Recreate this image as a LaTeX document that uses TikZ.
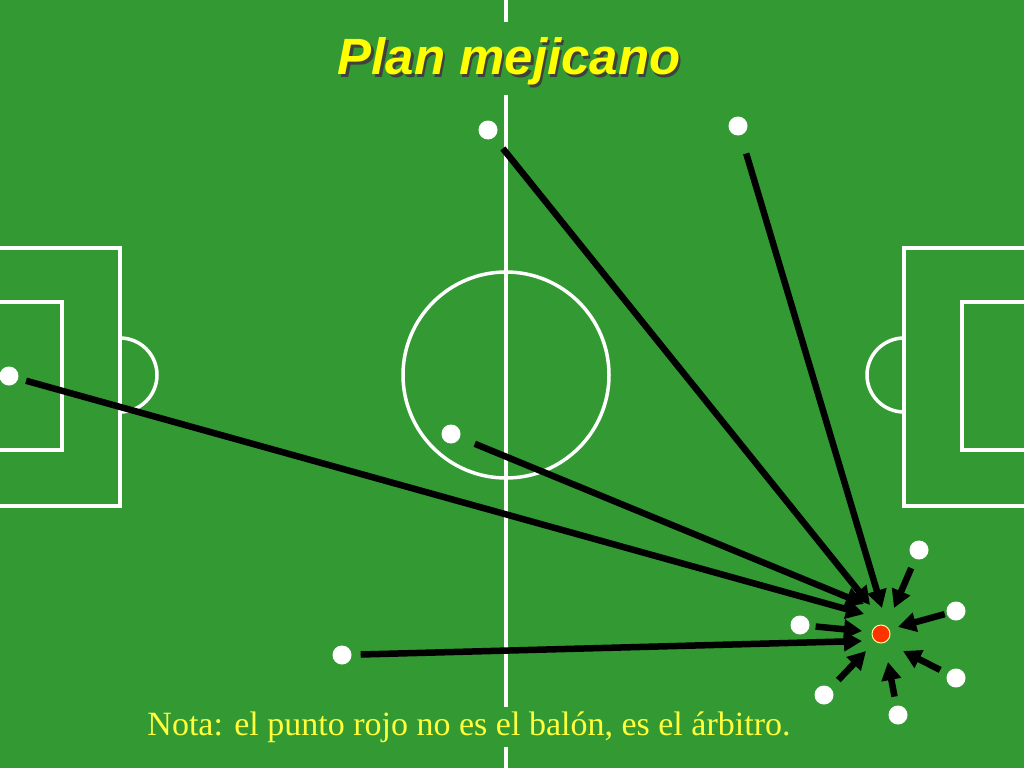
\documentclass[tikz,border=0pt]{standalone}
\usepackage{fontspec}
\setmainfont{Liberation Serif}
\setsansfont{Liberation Sans}
\usetikzlibrary{arrows.meta}
\definecolor{fieldgreen}{RGB}{51,153,51}
\definecolor{refred}{RGB}{255,51,0}
\definecolor{titleyellow}{RGB}{255,255,0}
\definecolor{noteyellow}{RGB}{255,255,60}
\newcommand{\shadowtext}[1]{\rlap{\kern2.5pt\raisebox{-2.5pt}{\textcolor{black!75}{#1}}}#1}
\begin{document}
\begin{tikzpicture}[x=1pt,y=-1pt,
  fieldline/.style={draw=white,line width=3.5pt},
  player/.style={circle,fill=white,inner sep=0pt,minimum size=19pt},
  referee/.style={circle,fill=refred,draw=yellow!40,line width=1pt,inner sep=0pt,minimum size=18pt},
  run/.style={draw=black,line width=6.5pt,-{Triangle[length=18pt,width=19pt]}},
  titletext/.style={font=\sffamily\bfseries\itshape\fontsize{51}{58}\selectfont},
  notetext/.style={font=\fontsize{34}{38}\selectfont,text=noteyellow}
]
\useasboundingbox (0,0) rectangle (1024,768);
\fill[fieldgreen] (0,0) rectangle (1024,768);
% field lines
\draw[fieldline] (506,0) -- (506,768);
\draw[fieldline] (506,375) circle[radius=103];
\draw[fieldline] (0,248) -- (120,248) -- (120,506) -- (0,506);
\draw[fieldline] (0,302) -- (62,302) -- (62,450) -- (0,450);
\draw[fieldline] (120,338) arc[start angle=-90,end angle=90,radius=37];
\draw[fieldline] (1024,248) -- (904,248) -- (904,506) -- (1024,506);
\draw[fieldline] (1024,302) -- (962,302) -- (962,450) -- (1024,450);
\draw[fieldline] (904,338) arc[start angle=270,end angle=90,radius=37];
% title and note (green boxes hide the halfway line)
\fill[fieldgreen] (330,22) rectangle (690,95);
\node[titletext,text=titleyellow] (title) at (509,63) {\shadowtext{Plan mejicano}};
\node[notetext,fill=fieldgreen,minimum height=40pt,inner sep=2pt] (note) at (469,727) {Nota: el punto rojo no es el balón, es el árbitro.};
% players
\node[player] (p1) at (488,130) {};
\node[player] (p2) at (738,126) {};
\node[player] (p3) at (9,376) {};
\node[player] (p4) at (451,434) {};
\node[player] (p5) at (342,655) {};
\node[player] (p6) at (800,625) {};
\node[player] (p7) at (919,550) {};
\node[player] (p8) at (956,611) {};
\node[player] (p9) at (956,678) {};
\node[player] (p10) at (898,715) {};
\node[player] (p11) at (824,695) {};
\node[referee] (ref) at (881,634) {};
% arrow tips
\coordinate (t1) at (870,605);
\coordinate (t2) at (882,608);
\coordinate (t3) at (864,614);
\coordinate (t4) at (864,604);
\coordinate (t5) at (862,641);
\coordinate (t6) at (862,631);
\coordinate (t7) at (894,608);
\coordinate (t8) at (898,627);
\coordinate (t9) at (903,651);
\coordinate (t10) at (888,662);
\coordinate (t11) at (866,651);
% runs
\draw[run,shorten <=14pt] (p1) -- (t1);
\draw[run,shorten <=19pt] (p2) -- (t2);
\draw[run,shorten <=8pt] (p3) -- (t3);
\draw[run,shorten <=16pt] (p4) -- (t4);
\draw[run,shorten <=9pt] (p5) -- (t5);
\draw[run,shorten <=6pt] (p6) -- (t6);
\draw[run,shorten <=10pt] (p7) -- (t7);
\draw[run,shorten <=2pt] (p8) -- (t8);
\draw[run,shorten <=8pt] (p9) -- (t9);
\draw[run,shorten <=9pt] (p10) -- (t10);
\draw[run,shorten <=11pt] (p11) -- (t11);
\end{tikzpicture}
\end{document}
